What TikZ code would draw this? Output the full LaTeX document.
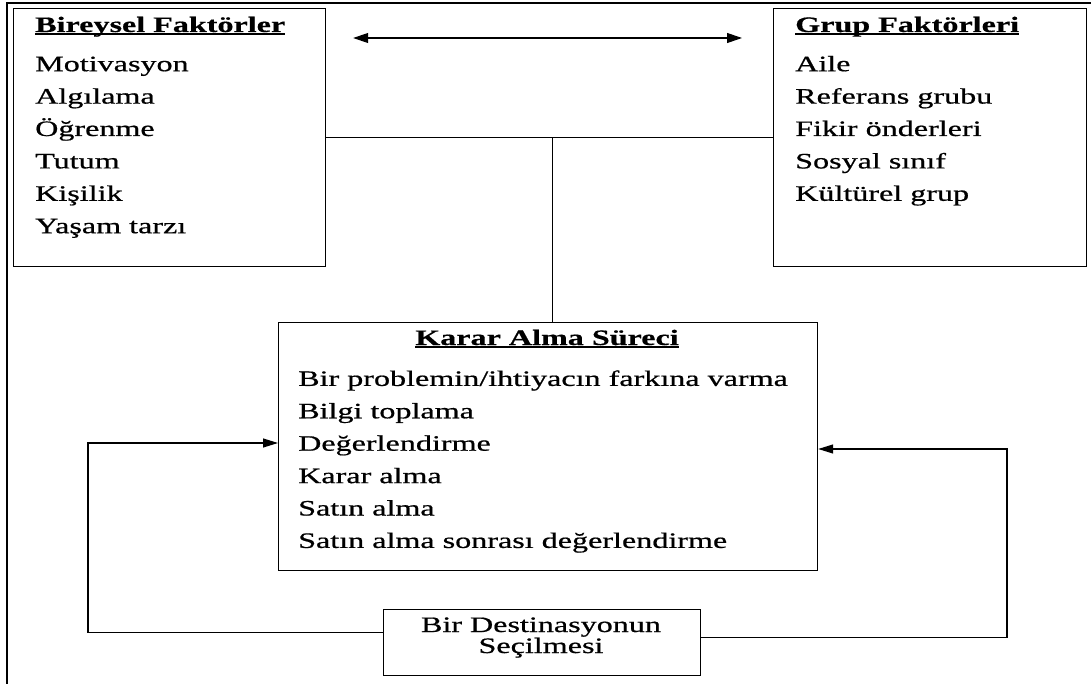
\documentclass[tikz,border=0pt]{standalone}
\usepackage{fontspec}
\setmainfont{Liberation Serif}[FakeStretch=1.46,UprightFeatures={FakeBold=0.7},BoldFeatures={FakeBold=0.5}]
\usetikzlibrary{arrows.meta,positioning}
\newcommand{\altcizgi}[1]{\setbox0\hbox{#1}\rlap{\rule[-2.6pt]{\wd0}{1.7pt}}\box0}
\tikzset{kutu/.style={draw,line width=1.2pt,inner sep=0pt},
madde/.style={anchor=base west,inner sep=0pt,font=\fontsize{22}{26}\selectfont},
baslik/.style={madde,font=\fontsize{22}{26}\selectfont\bfseries},
hat/.style={line width=1.2pt},
ok/.style={-{Triangle[length=15pt,width=9pt]},line width=1.2pt},
ikiok/.style={{Triangle[length=15pt,width=10pt]}-{Triangle[length=15pt,width=10pt]},line width=1.1pt}}

\begin{document}
\begin{tikzpicture}[x=1pt,y=-1pt]
\useasboundingbox (0,0) rectangle (1091,684);
\draw[line width=1.4pt](7,690)--(7,3)--(1095,3);
% kutular
\node[kutu,minimum width=312pt,minimum height=258pt,anchor=north west](bireysel) at (13,8){};
\node[kutu,minimum width=313pt,minimum height=258pt,anchor=north west](grup) at (773,8){};
\node[kutu,minimum width=539pt,minimum height=248pt,anchor=north west](karar) at (278,322){};
\node[kutu,minimum width=317pt,minimum height=66pt,anchor=north west](secim) at (383,609){};
% metinler
\node[baslik](bireyselB) at (35,32){\altcizgi{Bireysel Faktörler}};
\foreach \t [count=\i] in {Motivasyon,Algılama,Öğrenme,Tutum,Kişilik,Yaşam tarzı}
  \node[madde](bireysel\i) at (35,{38.8+32.4*\i}){\t};
\node[baslik](grupB) at (795,32){\altcizgi{Grup Faktörleri}};
\foreach \t [count=\i] in {Aile,Referans grubu,Fikir önderleri,Sosyal sınıf,Kültürel grup}
  \node[madde](grup\i) at (795,{38.8+32.4*\i}){\t};
\node[baslik,anchor=base](kararB) at (547,345){\altcizgi{Karar Alma Süreci}};
\foreach \t [count=\i] in {Bir problemin/ihtiyacın farkına varma,Bilgi toplama,Değerlendirme,
  Karar alma,Satın alma,Satın alma sonrası değerlendirme}
  \node[madde](karar\i) at (298,{353.5+32.4*\i}){\t};
\node[madde,anchor=base](secimA) at (541,632){Bir Destinasyonun};
\node[madde,anchor=base](secimB) at (541,653){Seçilmesi};
% baglantilar
\draw[ikiok]([xshift=27pt,yshift=-30pt]bireysel.north east)--([xshift=-31pt,yshift=-30pt]grup.north west);
\draw[hat](bireysel.east)--(grup.west);
\draw[hat]([xshift=4.5pt]karar.north)--([xshift=4.5pt]karar.north |- grup.west);
\coordinate(solk) at (88,443);
\coordinate(sagk) at (1007,449);
\draw[ok]([yshift=10pt]secim.west)-|(solk)--(karar.west |- solk);
\draw[ok]([yshift=5pt]secim.east)-|(sagk)--(karar.east |- sagk);
\end{tikzpicture}
\end{document}
